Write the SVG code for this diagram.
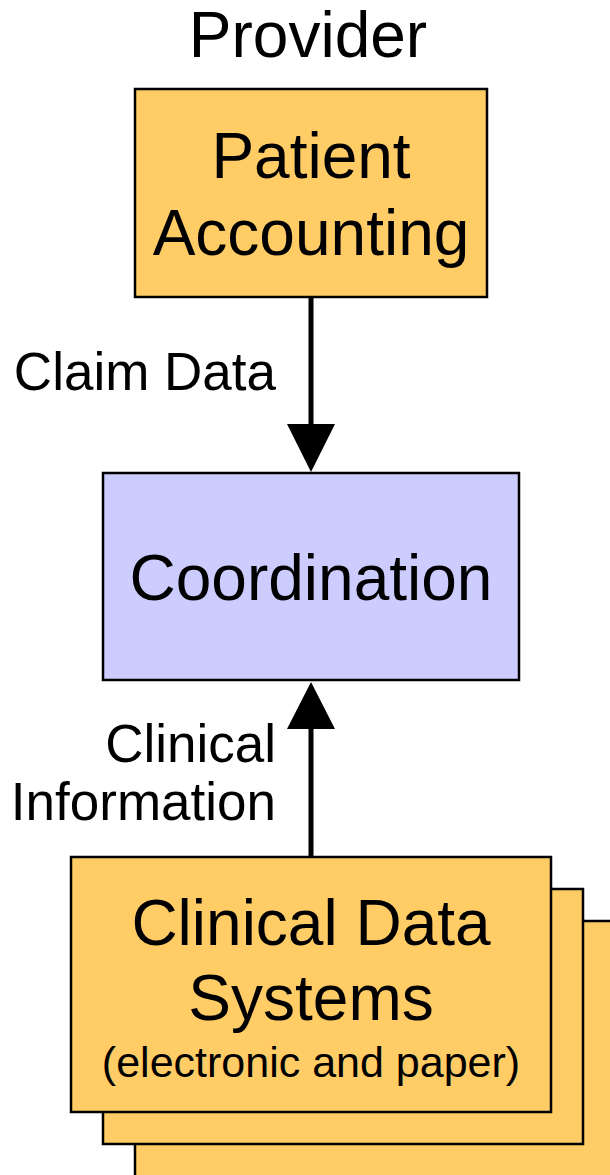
<svg xmlns="http://www.w3.org/2000/svg" width="610" height="1175" viewBox="0 0 610 1175">
<style>
text{font-family:"Liberation Sans",Arial,sans-serif;fill:#000}
.box{stroke:#000;stroke-width:2.5}
.org{fill:#FFCC66}
.blue{fill:#CCCCFF}
.big{font-size:64px;text-anchor:middle}
.lbl{font-size:53px;text-anchor:end}
.sm{font-size:43px;text-anchor:middle}
.conn{stroke:#000;stroke-width:5;fill:none}
</style>
<rect width="610" height="1175" fill="#fff"/>
<text x="308" y="57" style="font-size:64px;text-anchor:middle">Provider</text>
<g id="patient-accounting">
<rect class="box org" x="135" y="89" width="352" height="208"/>
<text class="big" x="311" y="178">Patient</text>
<text class="big" x="311" y="255">Accounting</text>
</g>
<g id="coordination">
<rect class="box blue" x="103" y="473" width="416" height="207"/>
<text class="big" x="311" y="600">Coordination</text>
</g>
<g id="clinical-data-systems">
<rect class="box org" x="135" y="921" width="490" height="270"/>
<rect class="box org" x="103" y="889" width="480" height="255"/>
<rect class="box org" x="71" y="857" width="480" height="255"/>
<text class="big" x="311" y="945">Clinical Data</text>
<text class="big" x="311" y="1020">Systems</text>
<text class="sm" x="311" y="1077">(electronic and paper)</text>
</g>
<g id="connectors">
<line class="conn" x1="311" y1="297" x2="311" y2="430"/>
<polygon points="287,424 335,424 311,472" fill="#000"/>
<text class="lbl" x="276" y="390">Claim Data</text>
<line class="conn" x1="311" y1="856" x2="311" y2="724"/>
<polygon points="287,729 335,729 311,682" fill="#000"/>
<text class="lbl" x="276" y="762">Clinical</text>
<text class="lbl" x="276" y="820">Information</text>
</g>
</svg>
